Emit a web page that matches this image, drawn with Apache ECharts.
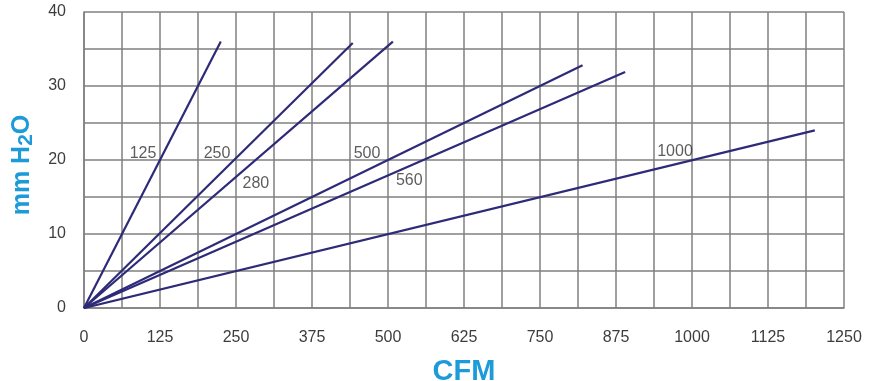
<!DOCTYPE html>
<html>
<head>
<meta charset="utf-8">
<script src="https://cdn.jsdelivr.net/npm/echarts@6/dist/echarts.min.js"></script>
<style>
html,body{margin:0;padding:0;background:#fff;}
#chart{width:872px;height:381px;}
</style>
</head>
<body>
<div id="chart"></div>
<script>
// Curve names (duct size) and straight-line end points
var curveNames = ['125', '250', '280', '500', '560', '1000'];
var endCFM = [225, 442, 508, 820, 890, 1202];
var endPressure = [36.0, 35.8, 36.0, 32.8, 31.9, 24.0];
// where each curve label is anchored on its line
var labelCFM = [125, 250, 240, 500, 479, 1000];
var labelPressure = [20, 20, 17, 20, 17.2, 20];
// axis ticks
var xTicks = [0, 125, 250, 375, 500, 625, 750, 875, 1000, 1125, 1250];
var yTicks = [0, 10, 20, 30, 40];

var labelOffsets = [[-17, -6], [-19, -6], [26, 1], [-21, -6], [34, 0], [-17, -8]];

var lineColor = '#2d2a78';
var gridColor = '#808080';
var font = 'Liberation Sans, Arial, sans-serif';

var series = curveNames.map(function (n, i) {
  return {
    name: n,
    type: 'line',
    data: [[0, 0], [endCFM[i], endPressure[i]]],
    symbol: 'none',
    lineStyle: { color: lineColor, width: 2.2 },
    silent: true,
    z: 3
  };
});
series.push({
  name: 'labels',
  type: 'scatter',
  symbolSize: 0,
  silent: true,
  z: 5,
  data: curveNames.map(function (n, i) {
    return {
      value: [labelCFM[i], labelPressure[i]],
      name: n,
      label: { offset: labelOffsets[i] }
    };
  }),
  label: {
    show: true,
    position: 'inside',
    formatter: function (p) { return p.name; },
    color: '#333',
    fontSize: 16,
    fontFamily: font
  }
});

var chart = echarts.init(document.getElementById('chart'));
chart.setOption({
  animation: false,
  backgroundColor: '#fff',
  grid: { left: 84, right: 28, top: 12, bottom: 73, containLabel: false, outerBoundsMode: 'none' },
  xAxis: {
    type: 'value',
    min: xTicks[0],
    max: xTicks[xTicks.length - 1],
    interval: xTicks[1] - xTicks[0],
    name: 'CFM',
    nameLocation: 'middle',
    nameGap: 49,
    nameTextStyle: { color: '#1c9bd8', fontSize: 29, fontWeight: 'bold', fontFamily: font },
    axisLine: { show: true, lineStyle: { color: gridColor, width: 1.5 } },
    axisTick: { show: false },
    axisLabel: { color: '#3d3d3d', fontSize: 16, margin: 22, fontFamily: font, formatter: function (v) { return String(v); } },
    splitLine: { show: true, lineStyle: { color: gridColor, width: 1.5 } },
    minorTick: { show: false, splitNumber: 2 },
    minorSplitLine: { show: true, lineStyle: { color: gridColor, width: 1.5 } }
  },
  yAxis: {
    type: 'value',
    min: yTicks[0],
    max: yTicks[yTicks.length - 1],
    interval: yTicks[1] - yTicks[0],
    name: 'mm H{sub|2}O',
    nameLocation: 'middle',
    nameGap: 47,
    nameTextStyle: {
      color: '#1c9bd8', fontSize: 25, fontWeight: 'bold', fontFamily: font,
      padding: [0, 10, 0, 0],
      rich: { sub: { color: '#1c9bd8', fontSize: 21, fontWeight: 'bold', fontFamily: font, verticalAlign: 'bottom', padding: [9, 0, 0, 0] } }
    },
    axisLine: { show: true, lineStyle: { color: gridColor, width: 1.5 } },
    axisTick: { show: false },
    axisLabel: { color: '#3d3d3d', fontSize: 16, margin: 18, fontFamily: font, formatter: function (v) { return String(v); } },
    splitLine: { show: true, lineStyle: { color: gridColor, width: 1.5 } },
    minorTick: { show: false, splitNumber: 2 },
    minorSplitLine: { show: true, lineStyle: { color: gridColor, width: 1.5 } }
  },
  series: series
});
</script>
</body>
</html>
